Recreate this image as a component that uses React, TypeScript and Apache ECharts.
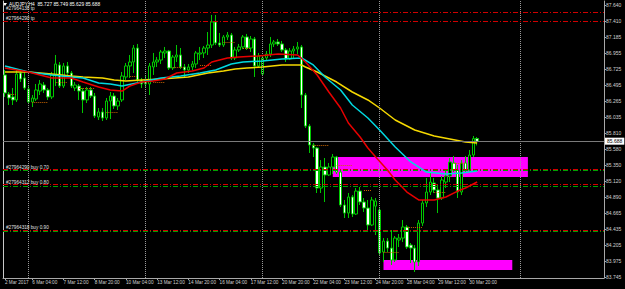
import { useEffect, useRef } from "react";
import * as echarts from "echarts";

const SLOT_COUNT = 154;
const categories = Array.from({ length: SLOT_COUNT }, (_, i) => String(i));

const xLabelIndex = [0, 7, 15, 23, 31, 39, 47, 55, 63, 71, 79, 87, 95, 103, 111, 119];
const xLabelText = [
  "2 Mar 2017", "6 Mar 04:00", "7 Mar 12:00", "8 Mar 20:00", "10 Mar 04:00", "13 Mar 12:00",
  "14 Mar 20:00", "16 Mar 04:00", "17 Mar 12:00", "20 Mar 20:00", "22 Mar 04:00", "23 Mar 12:00",
  "24 Mar 20:00", "28 Mar 04:00", "29 Mar 12:00", "30 Mar 20:00",
];
const yTickValues = [
  87.64, 87.41, 87.185, 86.955, 86.725, 86.495, 86.265, 86.035, 85.81,
  85.58, 85.35, 85.12, 84.89, 84.665, 84.435, 84.205, 83.975, 83.745,
];
const weekSeparators = [6, 36, 66, 96, 132];

// AUDJPY H4 candles: [open, close, low, high]
const bars = [
  [86.638, 86.380, 86.323, 86.709], [86.365, 86.308, 86.208, 86.394], [86.323, 86.280, 86.208, 86.451],
  [86.280, 86.652, 86.251, 86.709], [86.666, 86.580, 86.537, 86.709], [86.595, 86.451, 86.423, 86.709],
  [86.437, 86.251, 86.222, 86.480], [86.251, 86.308, 86.179, 86.351], [86.294, 86.423, 86.265, 86.509],
  [86.408, 86.509, 86.351, 86.566], [86.494, 86.423, 86.380, 86.537], [86.423, 86.323, 86.280, 86.451],
  [86.323, 86.638, 86.294, 86.681], [86.638, 86.795, 86.480, 86.924], [86.781, 86.480, 86.451, 86.824],
  [86.480, 86.767, 86.451, 86.809], [86.767, 86.666, 86.638, 86.824], [86.666, 86.480, 86.451, 86.695],
  [86.451, 86.494, 86.408, 86.537], [86.480, 86.408, 86.280, 86.509], [86.408, 86.280, 86.093, 86.451],
  [86.280, 86.423, 86.237, 86.466], [86.423, 86.337, 86.308, 86.466], [86.337, 86.051, 86.022, 86.380],
  [86.036, 86.108, 85.993, 86.165], [86.108, 86.022, 85.979, 86.165], [86.022, 86.265, 85.993, 86.308],
  [86.265, 86.337, 86.007, 86.394], [86.337, 86.194, 86.151, 86.380], [86.194, 86.265, 86.136, 86.308],
  [86.280, 86.623, 86.251, 86.681], [86.609, 86.767, 86.566, 86.809], [86.767, 86.824, 86.595, 86.924],
  [86.824, 87.024, 86.666, 87.067], [87.024, 86.566, 86.537, 87.082], [86.566, 86.509, 86.451, 86.595],
  [86.566, 86.509, 86.466, 86.623], [86.509, 86.767, 86.351, 86.809], [86.752, 86.824, 86.638, 86.953],
  [86.824, 86.852, 86.752, 86.895], [86.852, 86.967, 86.795, 86.996], [86.953, 86.981, 86.881, 87.039],
  [86.981, 86.738, 86.709, 86.996], [86.738, 86.895, 86.709, 86.924], [86.895, 86.924, 86.824, 87.067],
  [86.924, 86.752, 86.724, 87.024], [86.752, 86.709, 86.595, 86.795], [86.709, 86.752, 86.666, 86.795],
  [86.752, 86.795, 86.709, 86.838], [86.795, 86.953, 86.738, 86.981], [86.938, 86.953, 86.852, 87.039],
  [86.953, 87.024, 86.881, 87.053], [87.024, 87.067, 86.924, 87.253], [87.067, 87.397, 87.024, 87.497],
  [87.397, 87.096, 87.067, 87.497], [87.096, 87.067, 87.039, 87.239], [87.067, 87.182, 87.039, 87.210],
  [87.182, 87.210, 87.139, 87.253], [87.210, 86.881, 86.852, 87.239], [86.881, 86.996, 86.852, 87.039],
  [86.996, 87.039, 86.967, 87.082], [87.039, 87.182, 87.010, 87.210], [87.182, 87.024, 86.996, 87.225],
  [87.024, 87.153, 86.967, 87.196], [87.153, 86.767, 86.609, 87.182], [86.767, 86.910, 86.738, 86.953],
  [86.652, 86.881, 86.623, 86.910], [86.881, 86.938, 86.852, 86.981], [86.938, 87.082, 86.895, 87.182],
  [87.082, 87.110, 87.039, 87.139], [87.110, 87.082, 87.053, 87.153], [87.082, 86.996, 86.967, 87.125],
  [86.996, 86.867, 86.824, 87.024], [86.867, 86.981, 86.852, 87.024], [86.981, 87.010, 86.881, 87.053],
  [87.010, 87.039, 86.938, 87.110], [87.039, 86.351, 86.165, 87.067], [86.351, 85.907, 85.879, 86.380],
  [85.907, 85.635, 85.521, 85.936], [85.635, 85.592, 85.463, 85.664], [85.592, 85.019, 84.948, 85.607],
  [85.019, 85.320, 84.948, 85.420], [85.320, 85.206, 84.819, 85.449], [85.206, 85.320, 85.191, 85.377],
  [85.320, 85.463, 85.220, 85.506], [85.463, 85.248, 85.220, 85.478], [85.248, 84.776, 84.747, 85.277],
  [84.776, 84.661, 84.590, 84.848], [84.661, 84.891, 84.590, 84.948], [84.891, 84.647, 84.604, 84.919],
  [84.647, 84.976, 84.633, 85.019], [84.976, 84.819, 84.776, 85.034], [84.819, 84.733, 84.676, 84.876],
  [84.733, 84.490, 84.418, 84.848], [84.490, 84.848, 84.475, 84.891], [84.760, 84.833, 84.346, 84.876],
  [84.704, 84.089, 84.060, 84.733], [84.103, 84.260, 83.960, 84.303], [84.260, 84.160, 84.103, 84.303],
  [84.160, 83.988, 83.917, 84.418], [83.988, 84.303, 83.960, 84.332], [84.275, 84.303, 84.175, 84.361],
  [84.303, 84.461, 84.246, 84.561], [84.461, 84.175, 84.146, 84.490], [84.203, 84.160, 83.945, 84.232],
  [84.160, 83.960, 83.817, 84.203], [83.960, 84.518, 83.903, 84.561], [84.518, 84.805, 84.475, 84.848],
  [84.805, 84.962, 84.747, 85.163], [84.962, 85.105, 84.919, 85.248], [85.091, 84.991, 84.948, 85.163],
  [84.991, 84.876, 84.661, 85.062], [84.876, 85.134, 84.848, 85.191], [85.105, 85.191, 85.019, 85.277],
  [85.191, 85.392, 85.105, 85.449], [85.377, 85.277, 85.248, 85.478], [85.277, 84.962, 84.876, 85.349],
  [84.962, 85.377, 84.919, 85.420], [85.377, 85.277, 85.248, 85.478], [85.277, 85.492, 85.248, 85.564],
  [85.492, 85.727, 85.463, 85.764], [85.727, 85.688, 85.629, 85.749],
];

// moving averages sampled at bar index: [index, value]
const maFast = [
  [0, 86.738], [6, 86.681], [12, 86.595], [17, 86.595], [20, 86.537], [24, 86.466], [27, 86.423],
  [30, 86.408], [32, 86.48], [35, 86.537], [38, 86.552], [41, 86.58], [44, 86.666], [48, 86.695],
  [51, 86.738], [53, 86.824], [57, 86.881], [60, 86.895], [65, 86.91], [70, 86.938], [75, 86.924],
  [77, 86.824], [80, 86.638], [83, 86.394], [86, 86.165], [88, 85.95], [91, 85.75], [93, 85.592],
  [95, 85.463], [98, 85.277], [100, 85.134], [103, 84.962], [106, 84.848], [110, 84.848],
  [113, 84.891], [116, 84.976], [118, 85.019], [121, 85.105],
];
const maMid = [
  [0, 86.767], [6, 86.681], [12, 86.638], [17, 86.609], [20, 86.595], [24, 86.523], [27, 86.509],
  [30, 86.48], [35, 86.537], [40, 86.595], [45, 86.623], [50, 86.666], [54, 86.709], [58, 86.795],
  [61, 86.824], [66, 86.838], [71, 86.867], [76, 86.881], [79, 86.781], [82, 86.609], [86, 86.423],
  [89, 86.208], [93, 86.022], [96, 85.85], [100, 85.607], [104, 85.392], [108, 85.248], [113, 85.22],
  [117, 85.234], [121, 85.263],
];
const maSlow = [
  [0, 86.681], [6, 86.681], [12, 86.652], [17, 86.623], [20, 86.609], [25, 86.595], [28, 86.566],
  [31, 86.552], [35, 86.566], [40, 86.58], [47, 86.609], [52, 86.666], [56, 86.695], [59, 86.724],
  [62, 86.738], [66, 86.752], [71, 86.781], [76, 86.781], [77, 86.752], [80, 86.681], [85, 86.537],
  [89, 86.394], [93, 86.28], [96, 86.165], [100, 85.993], [105, 85.85], [110, 85.764], [114, 85.721],
  [118, 85.678], [121, 85.664],
];

// order lines: [price, colour kind, label]
const orderPrices = [87.54, 87.397, 85.287, 85.267, 85.069, 85.048, 84.418, 84.397];
const orderKinds = ["tp", "tp", "sl", "open", "sl", "open", "sl", "open"];
const orderLabels = [
  "#27964138 tp", "#27964290 tp", "", "#27964290 buy 0.70", "", "#27964312 buy 0.80", "", "#27964318 buy 0.90",
];
const bidPrice = 85.688;

// zones: [startIndex, endIndex, top, bottom]
const zones = [
  [84, 134, 85.463, 85.177],
  [97, 130, 83.988, 83.845],
];

// closed trade history segments: [startIndex, endIndex, price]
const tradeSegments = [
  [1, 3, 86.365], [7, 11, 86.251], [13, 16, 86.537], [19, 23, 86.451], [26, 29, 86.108],
  [32, 34, 86.623], [38, 41, 86.537], [43, 46, 86.752], [50, 53, 86.781], [56, 59, 87.11],
  [61, 63, 87.024], [79, 83, 85.635], [85, 89, 85.349], [92, 94, 84.991], [97, 101, 84.103],
  [103, 107, 84.461], [110, 113, 84.962], [115, 118, 85.377],
];

const FONT = "Liberation Sans";

export default function App() {
  const ref = useRef<HTMLDivElement>(null);
  useEffect(() => {
    if (!ref.current) return;
    const chart = echarts.init(ref.current, null, { renderer: "svg" });
    const labelMap = new Map<number, string>();
    xLabelIndex.forEach((idx, k) => labelMap.set(idx, xLabelText[k]));
    const showIdx = (i: number) => labelMap.has(i);

    const orderColor = (k: string) => (k === "open" ? "#00a000" : "#d00000");

    chart.setOption({
      animation: false,
      backgroundColor: "#000000",
      grid: { left: 3, right: 21, top: 1, bottom: 11 },
      xAxis: {
        type: "category",
        data: categories,
        boundaryGap: true,
        axisLine: { show: true, lineStyle: { color: "#a8a8a8", width: 1 } },
        axisTick: { show: true, interval: (i: number) => showIdx(i), alignWithLabel: true, length: 2, lineStyle: { color: "#a8a8a8" } },
        axisLabel: {
          interval: (i: number) => showIdx(i),
          formatter: (_v: string, i: number) => labelMap.get(i) || "",
          color: "#d0d0d0",
          fontSize: 4.7,
          fontFamily: FONT,
          align: "left",
          margin: 2,
        },
        splitLine: { show: false },
      },
      yAxis: [
        {
          type: "value",
          position: "right",
          min: 83.731,
          max: 87.697,
          axisLine: { show: true, lineStyle: { color: "#a8a8a8", width: 1 } },
          axisTick: { show: true, customValues: yTickValues, length: 2, lineStyle: { color: "#a8a8a8" } },
          axisLabel: {
            customValues: yTickValues,
            formatter: (v: number) => v.toFixed(3),
            color: "#d0d0d0",
            fontSize: 5,
            fontFamily: FONT,
            margin: 2,
          },
          splitLine: { show: false },
        },
        {
          type: "value",
          position: "left",
          min: 83.731,
          max: 87.697,
          axisLine: { show: true, lineStyle: { color: "#c8c8c8", width: 1 } },
          axisTick: { show: false },
          axisLabel: { show: false },
          splitLine: { show: false },
        },
      ],
      graphic: [
        { type: "polygon", shape: { points: [[3, 3], [7, 3], [5, 6]] }, style: { fill: "#ffffff" } },
        {
          type: "text",
          left: 9,
          top: 2,
          style: { text: "AUDJPY,H4  85.727 85.749 85.629 85.688", fill: "#ffffff", fontSize: 4.8, fontFamily: FONT },
        },
      ],
      series: [
        {
          type: "line",
          data: [],
          z: 1,
          markArea: {
            silent: true,
            itemStyle: { color: "#ff00ff", opacity: 1 },
            data: zones.map((z) => [
              { xAxis: categories[z[0]], yAxis: z[2] },
              { xAxis: categories[z[1]], yAxis: z[3] },
            ]),
          },
        },
        {
          type: "line",
          data: [],
          z: 2,
          markLine: {
            silent: true,
            symbol: ["none", "none"],
            label: { show: false },
            lineStyle: { color: "#9a9a9a", type: "dotted", width: 1 },
            data: weekSeparators.map((i) => ({ xAxis: categories[i] })),
          },
        },
        {
          type: "line",
          data: [],
          z: 2,
          markLine: {
            silent: true,
            symbol: ["none", "none"],
            label: { show: false },
            lineStyle: { color: "#c86400", type: "dotted", width: 1 },
            data: tradeSegments.map((s) => [
              { coord: [categories[s[0]], s[2]] },
              { coord: [categories[s[1]], s[2]] },
            ]),
          },
        },
        {
          type: "candlestick",
          data: bars,
          barWidth: 3,
          z: 3,
          itemStyle: {
            color: "#000000",
            color0: "#ffffff",
            borderColor: "#00c800",
            borderColor0: "#00c800",
            borderWidth: 1,
          },
          markLine: {
            silent: true,
            symbol: ["none", "none"],
            data: [
              ...orderPrices.map((p, k) => ({
                yAxis: p,
                lineStyle: { color: orderColor(orderKinds[k]), type: [5, 2, 1, 2], width: 1 },
                label: {
                  show: orderLabels[k] !== "",
                  formatter: orderLabels[k],
                  position: "insideStartTop",
                  distance: [3, 1],
                  color: "#e0e0e0",
                  fontSize: 4.7,
                  fontFamily: FONT,
                },
              })),
              {
                yAxis: bidPrice,
                lineStyle: { color: "#7a7a7a", type: "solid", width: 1 },
                label: {
                  show: true,
                  position: "end",
                  formatter: bidPrice.toFixed(3),
                  backgroundColor: "#ffffff",
                  color: "#000000",
                  fontSize: 5,
                  fontFamily: FONT,
                  padding: [1, 2, 1, 2],
                  distance: 1,
                },
              },
            ],
          },
        },
        {
          type: "line",
          data: maSlow,
          symbol: "none",
          z: 4,
          lineStyle: { color: "#f5d800", width: 1.5 },
        },
        {
          type: "line",
          data: maMid,
          symbol: "none",
          z: 5,
          lineStyle: { color: "#00d8e0", width: 1.5 },
        },
        {
          type: "line",
          data: maFast,
          symbol: "none",
          z: 6,
          lineStyle: { color: "#e80000", width: 1.5 },
        },
      ],
    });
    return () => chart.dispose();
  }, []);

  return (
    <div
      ref={ref}
      style={{ position: "fixed", left: 0, top: 0, width: 625, height: 289, background: "#000" }}
    />
  );
}
